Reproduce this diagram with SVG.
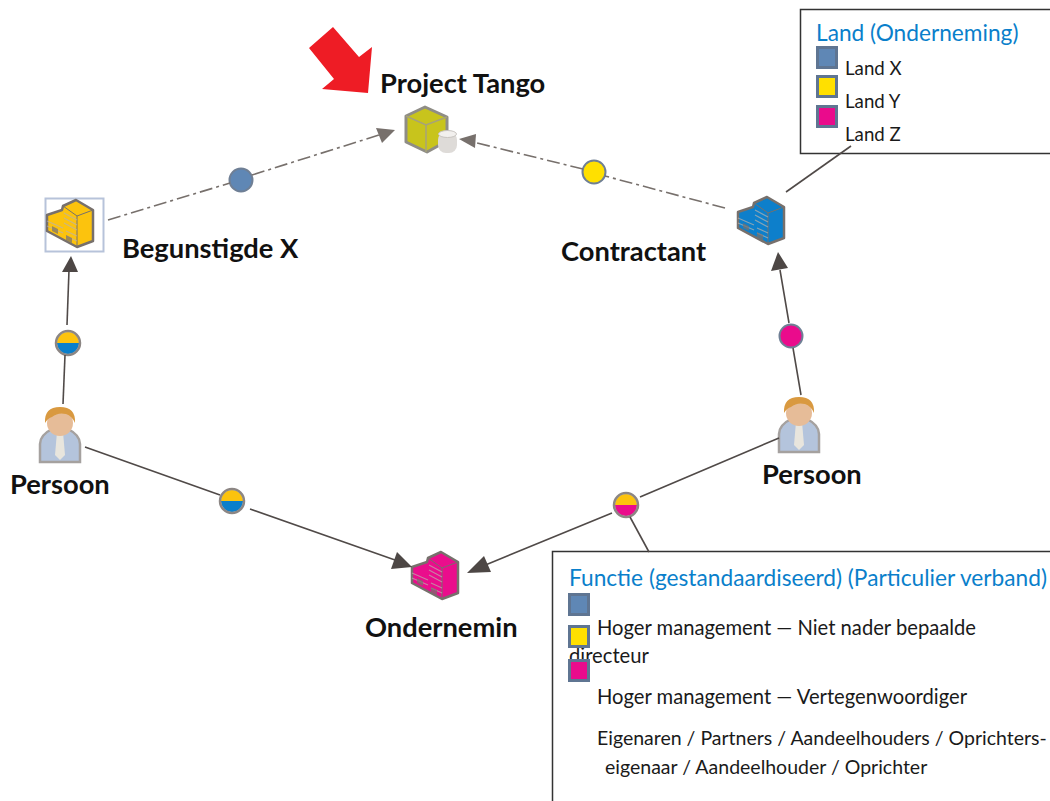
<svg xmlns="http://www.w3.org/2000/svg" width="1050" height="801" viewBox="0 0 1050 801">
<style>
text{font-family:Lato,"Liberation Sans",sans-serif}
.t{font-size:27.300px;font-weight:700;fill:#111}
.h{font-size:22.700px;fill:#0a7fcb}
.b{font-size:18.700px;fill:#1a1a1a}
.f{font-size:20.200px;fill:#1a1a1a}
.g{font-size:19.500px;fill:#1a1a1a}
.box{fill:#fff;stroke:#333;stroke-width:1.5}
.dash{fill:none;stroke:#77706c;stroke-width:1.6;stroke-dasharray:13 4 3 4}
.sol{fill:none;stroke:#504a48;stroke-width:1.6}
.ah{fill:#4d4745}
.ag{fill:#77706c}
.sw{stroke:#5f7592;stroke-width:3}
.dot{stroke:#6f7f95;stroke-width:2}
.ring{stroke:#8c8684;stroke-width:2.5;fill:none}
.icon{filter:url(#soft)}
</style>
<defs>
<filter id="soft" x="-20%" y="-20%" width="140%" height="140%"><feGaussianBlur stdDeviation="0.7"/></filter>
<clipPath id="c1"><circle cx="0" cy="0" r="11"/></clipPath>
<g id="person" class="icon">
<path d="M-20 24V6Q-20-3-8-9L8-9Q20-3 20 6V24Z" fill="#b4c4dc" stroke="#a5a19f" stroke-width="2.5"/>
<path d="M-3-6H3L5 17 0 22-5 17Z" fill="#e8e5dd"/>
<ellipse cx="0" cy="-15" rx="13" ry="13" fill="#e6bc98"/>
<path d="M-15-15Q-16-31 0-31 16-31 15-15 12-22 6-24-2-26-8-21-12-20-15-15Z" fill="#d9993f"/>
</g>
<g id="bld" class="icon">
<path d="M-24-8-9-13-8-17 5-23 22-13V18L6 24-24 8Z" stroke="#77706c" stroke-width="2.500" stroke-linejoin="round"/>
<path d="M-8-17 6-7 22-13M6-7V24" stroke="#77706c" stroke-width="1" fill="none"/>
<path d="M-24-2-8 5M-24 3-8 10M-7-10 6-3M-7-5 6 2M-7 0 6 7M-5 8 6 13M-5 13 6 18" stroke="#b9b2ac" stroke-width="1.300" fill="none" opacity=".7"/>
<path d="M-19 3-13 6V11L-19 8ZM-5 12 1 15V20L-5 17Z" fill="#77706c" opacity=".7"/>
</g>
</defs>
<g id="arrow-red"><path d="M333 27 359 57 372 47 368 93 322 89 334 79 309 48Z" fill="#ee1c25"/></g>
<g id="node-project-tango">
<text class="t" x="380" y="93">Project Tango</text>
<g class="icon">
<path d="M406 116 425 107 447 117V141L427 152 406 142Z" fill="#c8c41e" stroke="#8f8d86" stroke-width="3" stroke-linejoin="round"/>
<path d="M406 116 426 125 447 117M426 125V152" fill="none" stroke="#a6a27a" stroke-width="1.5"/>
<rect x="438" y="132" width="19" height="21" rx="8" fill="#dedbd8"/>
<ellipse cx="447.500" cy="134" rx="9" ry="3.500" fill="#f2f0ee" stroke="#c8c4c0"/>
</g>
</g>
<g id="node-begunstigde">
<rect x="45.500" y="198.500" width="58" height="53" fill="#fff" stroke="#b7c3da" stroke-width="2"/>
<use href="#bld" x="71" y="223" fill="#fcc30e"/>
<text class="t" x="122" y="258">Begunstigde X</text>
</g>
<g id="node-contractant">
<use href="#bld" x="762" y="220" fill="#0a7fcb"/>
<text class="t" x="561" y="261">Contractant</text>
</g>
<g id="node-persoon-left">
<use href="#person" x="60" y="438"/>
<text class="t" x="10" y="494">Persoon</text>
</g>
<g id="node-persoon-right">
<use href="#person" x="799" y="428"/>
<text class="t" x="762" y="484">Persoon</text>
</g>
<g id="node-onderneming">
<use href="#bld" x="436" y="575" fill="#ea0b8c"/>
<text class="t" x="365" y="637">Ondernemin</text>
</g>
<g id="edge-dots">
<circle class="dot" cx="241" cy="180" r="11.500" fill="#5f87b5"/>
<circle class="dot" cx="594" cy="172" r="11.500" fill="#ffe000"/>
<circle class="dot" cx="791" cy="336" r="11.500" fill="#ea0b8c"/>
<g transform="translate(68 343)"><g clip-path="url(#c1)"><rect x="-12" y="-12" width="24" height="12" fill="#fcc30e"/><rect x="-12" y="0" width="24" height="12" fill="#0a7fcb"/></g><circle r="12" class="ring"/></g>
<g transform="translate(232 501)"><g clip-path="url(#c1)"><rect x="-12" y="-12" width="24" height="12" fill="#fcc30e"/><rect x="-12" y="0" width="24" height="12" fill="#0a7fcb"/></g><circle r="12" class="ring"/></g>
<g transform="translate(626 505)"><g clip-path="url(#c1)"><rect x="-12" y="-12" width="24" height="12" fill="#fcc30e"/><rect x="-12" y="0" width="24" height="12" fill="#ea0b8c"/></g><circle r="12" class="ring"/></g>
</g>
<g id="legend-land">
<rect class="box" x="800.500" y="9.500" width="260" height="144"/>
<text class="h" x="816" y="41">Land (Onderneming)</text>
<rect class="sw" x="817.500" y="47.500" width="19" height="20" fill="#5f87b5"/>
<rect class="sw" x="817.500" y="76.500" width="19" height="20" fill="#ffe000"/>
<rect class="sw" x="817.500" y="106.500" width="19" height="20" fill="#ea0b8c"/>
<text class="b" x="845" y="75">Land X</text>
<text class="b" x="845" y="108">Land Y</text>
<text class="b" x="845" y="141">Land Z</text>
</g>
<g id="legend-functie">
<rect class="box" x="552.500" y="551.500" width="520" height="270"/>
<text class="h" x="569" y="586">Functie (gestandaardiseerd) (Particulier verband)</text>
<rect class="sw" x="569.500" y="594.500" width="19" height="20" fill="#5f87b5"/>
<text class="f" x="597" y="635">Hoger management — Niet nader bepaalde</text>
<text class="f" x="569" y="663">directeur</text>
<rect class="sw" x="569.500" y="626.500" width="19" height="20" fill="#ffe000"/>
<rect class="sw" x="569.500" y="660.500" width="19" height="20" fill="#ea0b8c"/>
<text class="f" x="597" y="704">Hoger management — Vertegenwoordiger</text>
<text class="g" x="597" y="745">Eigenaren / Partners / Aandeelhouders / Oprichters-</text>
<text class="g" x="605" y="774">eigenaar / Aandeelhouder / Oprichter</text>
</g>
<g id="connectors">
<path class="dash" d="M108 220 230 183M252 175 379 135"/>
<path class="ag" d="M395 130 376 128 382 143Z"/>
<path class="dash" d="M725 208 605 176M583 169 477 143"/>
<path class="ag" d="M459 139 476 134 475 148Z"/>
<path class="sol" d="M67 325 69 270"/>
<path class="ah" d="M71 256 62 272 78 272Z"/>
<path class="sol" d="M63 404 65 355"/>
<path class="sol" d="M801 395 793 348M789 323 780 270"/>
<path class="ah" d="M778 252 771 271 788 268Z"/>
<path class="sol" d="M85 447 220 495M250 509 395 560"/>
<path class="ah" d="M412 567 391 569 397 552Z"/>
<path class="sol" d="M779 438 640 497M612 513 483 566"/>
<path class="ah" d="M467 573 484 556 491 572Z"/>
<path class="sol" d="M630 517 649 552"/>
<path class="sol" d="M851 146 786 192"/>
</g>
</svg>
